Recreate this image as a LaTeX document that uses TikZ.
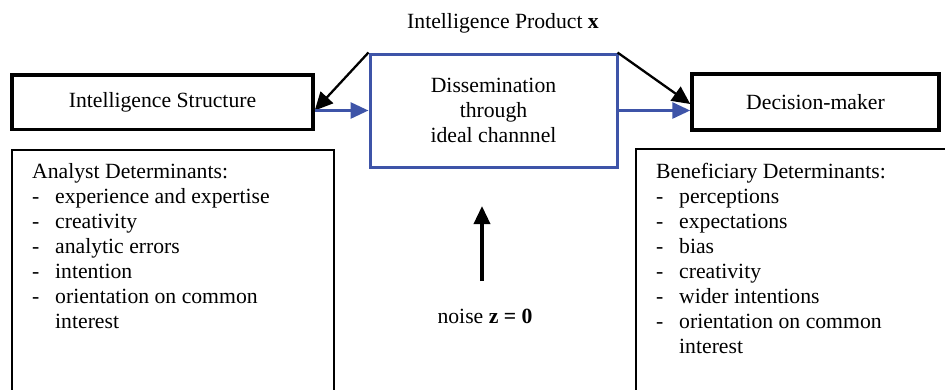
\documentclass[tikz,border=0pt]{standalone}
\usepackage{fontspec}
\setmainfont{Liberation Serif}
\usetikzlibrary{arrows.meta}
\definecolor{chanblue}{RGB}{62,84,168}
\begin{document}
\begin{tikzpicture}[x=1pt,y=-1pt,
  every node/.style={font=\fontsize{21.7}{25}\selectfont},
  actor/.style={draw=black,line width=3.5pt,inner sep=0pt},
  channel/.style={draw=chanblue,line width=3pt,inner sep=0pt,align=center},
  listbox/.style={draw=black,line width=1.8pt,inner sep=0pt},
  listtext/.style={inner sep=0pt,anchor=north west,align=left},
  flow/.style={draw=chanblue,line width=3pt,-{Triangle[length=18pt,width=16pt]}},
  feed/.style={draw=black,line width=2.3pt,-{Triangle[length=18pt,width=17pt]}},
  noisearrow/.style={draw=black,line width=3.5pt,-{Triangle[length=18pt,width=16pt]}}
]
\useasboundingbox (0,0) rectangle (945,389);

% title
\node[anchor=base] (title) at (503,28) {Intelligence Product \textbf{x}};

% main boxes
\node[actor,minimum width=301pt,minimum height=54.5pt] (ist) at (162.5,102.2)
  {Intelligence Structure};
\node[channel,minimum width=247pt,minimum height=113pt] (chan) at (493.5,110.5)
  {Dissemination\\through\\ideal channnel};
\node[actor,minimum width=247pt,minimum height=56pt] (dm) at (815.5,102)
  {Decision-maker};

% determinant boxes (running past the lower edge)
\node[listbox,minimum width=322pt,minimum height=280pt,anchor=north west] (lbox) at (11,149) {};
\node[listbox,minimum width=330pt,minimum height=280pt,anchor=north west] (rbox) at (635,148) {};

\newcommand{\itm}[1]{\makebox[23pt][l]{-}#1}
\newcommand{\cnt}[1]{\hspace*{23pt}#1}

\node[listtext] (ltext) at (32,163.2) {Analyst Determinants:\\
  \itm{experience and expertise}\\
  \itm{creativity}\\
  \itm{analytic errors}\\
  \itm{intention}\\
  \itm{orientation on common}\\
  \cnt{interest}};

\node[listtext] (rtext) at (656,163.2) {Beneficiary Determinants:\\
  \itm{perceptions}\\
  \itm{expectations}\\
  \itm{bias}\\
  \itm{creativity}\\
  \itm{wider intentions}\\
  \itm{orientation on common}\\
  \cnt{interest}};

% noise
\node[anchor=base] (noise) at (485,323) {noise \textbf{z = 0}};
\coordinate (nbot) at (482,281);
\coordinate (ntop) at (482,206);

% connectors
\coordinate (lin) at (ist.east |- chan.west);
\coordinate (rin) at (dm.west |- chan.east);
\draw[feed] (chan.north west) -- (lin);
\draw[flow] (lin) -- (chan.west);
\draw[feed] ([xshift=-1pt]chan.north east) -- ([yshift=-2pt]dm.west);
\draw[flow] (chan.east) -- (rin);
\draw[noisearrow] (nbot) -- (ntop);
\end{tikzpicture}
\end{document}
